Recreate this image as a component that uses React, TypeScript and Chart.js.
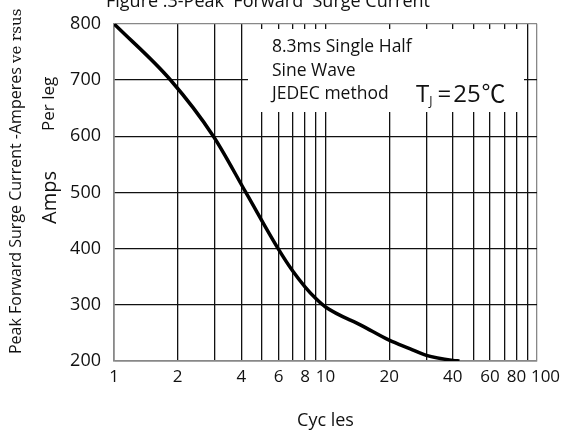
import React, { useEffect, useRef } from "react";
import { Chart, registerables } from "chart.js";

Chart.register(...registerables);

// ---- data ----
const cycles = [1, 1.85, 2.95, 4.2, 5.97, 7, 8, 9, 10, 15, 20, 25, 30, 40, 43];
const amps = [800, 700, 600, 500, 400, 360, 332, 311, 296, 262, 237, 222, 210, 201, 200];

const xGridValues = [1, 2, 3, 4, 5, 6, 7, 8, 9, 10, 20, 30, 40, 50, 60, 70, 80, 90, 100];
const xTickLabels = [1, 2, 4, 6, 8, 10, 20, 40, 60, 80, 100];
const yMin = 200;
const yMax = 800;
const yStep = 100;

const titleText = "Figure .3-Peak  Forward  Surge Current";
const yTitleMain = "Peak Forward Surge Current -Amperes ";
const yTitleSerif = "ve rsus";
const yTitleAmps = "Amps";
const yTitlePerLeg = "Per leg";
const xTitle = "Cyc les";
const noteLines = ["8.3ms Single Half", "Sine Wave", "JEDEC method"];

const FONT = "'Open Sans', 'Noto Sans', sans-serif";
const INK = "#111";

const decorPlugin = {
  id: "decor",
  beforeDatasetsDraw(chart: any) {
    const ctx = chart.ctx;
    ctx.save();
    // white note box covering the grid
    ctx.fillStyle = "#fff";
    ctx.fillRect(248, 29, 276, 83);
    ctx.fillStyle = INK;
    ctx.textBaseline = "alphabetic";
    ctx.textAlign = "left";
    ctx.font = `17.5px ${FONT}`;
    noteLines.forEach((t, i) => ctx.fillText(t, 272, 52 + i * 23.5));
    // T_J = 25 C
    let x = 416;
    const by = 102;
    ctx.font = `24px ${FONT}`;
    ctx.fillText("T", x, by);
    x += ctx.measureText("T").width;
    ctx.font = `12px ${FONT}`;
    ctx.fillText("J", x, by + 3);
    x += ctx.measureText("J").width + 5;
    ctx.font = `24px ${FONT}`;
    ctx.fillText("=", x, by);
    x += ctx.measureText("=").width + 2;
    ctx.fillText("25", x, by);
    x += ctx.measureText("25").width + 1;
    ctx.font = `24px 'Noto Sans CJK SC', ${FONT}`;
    ctx.fillText("℃", x, by);
    ctx.restore();
  },
  afterDraw(chart: any) {
    const ctx = chart.ctx;
    ctx.save();
    ctx.fillStyle = INK;
    // top title (partly cut off)
    ctx.textBaseline = "alphabetic";
    ctx.textAlign = "left";
    ctx.font = `18px ${FONT}`;
    ctx.fillText(titleText, 106, 7);

    // rotated y titles
    ctx.translate(21, 354);
    ctx.rotate(-Math.PI / 2);
    ctx.font = `16px ${FONT}`;
    ctx.fillText(yTitleMain, 0, 0);
    const w = ctx.measureText(yTitleMain).width;
    ctx.font = `15px 'DejaVu Serif', serif`;
    ctx.fillText(yTitleSerif, w, 0);
    ctx.restore();

    ctx.save();
    ctx.fillStyle = INK;
    ctx.translate(56, 224);
    ctx.rotate(-Math.PI / 2);
    ctx.font = `20px ${FONT}`;
    ctx.fillText(yTitleAmps, 0, 0);
    ctx.restore();

    ctx.save();
    ctx.fillStyle = INK;
    ctx.translate(54, 131);
    ctx.rotate(-Math.PI / 2);
    ctx.font = `17px ${FONT}`;
    ctx.fillText(yTitlePerLeg, 0, 0);
    ctx.restore();
  },
};

export default function App() {
  const ref = useRef<HTMLCanvasElement | null>(null);

  useEffect(() => {
    if (!ref.current) return;
    const chart = new Chart(ref.current, {
      type: "line",
      data: {
        datasets: [
          {
            data: cycles.map((c, i) => ({ x: c, y: amps[i] })),
            borderColor: "#000",
            borderWidth: 3.5,
            pointRadius: 0,
            cubicInterpolationMode: "monotone",
            fill: false,
          },
        ],
      },
      options: {
        animation: false,
        responsive: false,
        devicePixelRatio: 1,
        layout: { padding: { top: 14, right: 24, left: 0, bottom: 0 } },
        plugins: { legend: { display: false }, tooltip: { enabled: false }, title: { display: false } },
        scales: {
          x: {
            type: "logarithmic",
            min: 1,
            max: 100,
            afterBuildTicks: (scale: any) => {
              scale.ticks = xGridValues.map((v) => ({ value: v }));
            },
            afterFit: (scale: any) => {
              scale.height = 77;
              scale.paddingLeft = 0;
              scale.paddingRight = 0;
            },
            ticks: {
              autoSkip: false,
              maxRotation: 0,
              padding: 6,
              color: INK,
              font: { family: FONT, size: 17 },
              callback: (value: any) => {
                const v = Number(value);
                if (!xTickLabels.includes(v)) return "";
                return v === 100 ? "\u2002\u2002100" : String(v);
              },
            },
            grid: {
              drawTicks: false,
              color: (ctx: any) => (ctx.tick && ctx.tick.value === 100 ? "#888" : "#111"),
              lineWidth: 1.3,
            },
            border: { color: "#888", width: 1.5 },
            title: {
              display: true,
              text: xTitle,
              color: INK,
              font: { family: FONT, size: 18 },
              padding: { top: 0, bottom: 6 },
            },
          },
          y: {
            type: "linear",
            min: yMin,
            max: yMax,
            afterFit: (scale: any) => {
              scale.width = 114;
            },
            ticks: {
              stepSize: yStep,
              padding: 13,
              color: INK,
              font: { family: FONT, size: 18 },
            },
            grid: {
              drawTicks: false,
              color: (ctx: any) => (ctx.tick && ctx.tick.value === yMax ? "#888" : "#111"),
              lineWidth: 1.3,
            },
            border: { color: "#888", width: 1.5 },
          },
        },
      },
      plugins: [decorPlugin],
    } as any);
    return () => chart.destroy();
  }, []);

  return (
    <canvas
      ref={ref}
      width={561}
      height={438}
      style={{ position: "absolute", left: 0, top: 0, width: 561, height: 438 }}
    />
  );
}
